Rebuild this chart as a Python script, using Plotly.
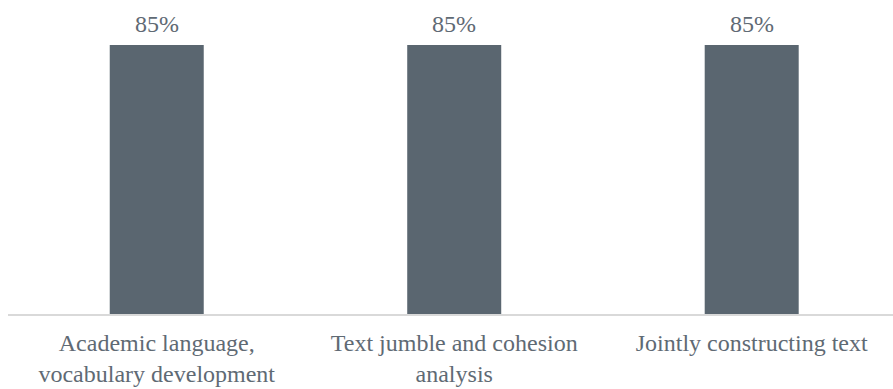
import plotly.graph_objects as go

categories = ["Academic language,<br>vocabulary development",
              "Text jumble and cohesion<br>analysis",
              "Jointly constructing text"]
values = [85, 85, 85]
value_labels = ["85%", "85%", "85%"]

bar_color = "#5a6670"
text_color = "#5f6a74"
font_family = "Liberation Serif"

fig = go.Figure()
fig.add_trace(go.Bar(
    x=list(range(len(categories))),
    y=values,
    width=0.316,
    marker=dict(color=bar_color, line=dict(width=0)),
    hoverinfo="skip",
))

for i, (v, lab) in enumerate(zip(values, value_labels)):
    fig.add_annotation(
        x=i, y=v, text=lab, showarrow=False,
        yanchor="bottom", yshift=6,
        font=dict(family=font_family, size=24, color=text_color),
    )

fig.update_layout(
    width=893, height=389,
    margin=dict(l=8, r=0, t=0, b=75),
    paper_bgcolor="white", plot_bgcolor="white",
    showlegend=False,
    font=dict(family=font_family, size=24, color=text_color),
    xaxis=dict(
        range=[-0.5, 2.475],
        tickmode="array",
        tickvals=list(range(len(categories))),
        ticktext=categories,
        showline=True, linecolor="#d9d9d9", linewidth=1.5,
        showgrid=False, zeroline=False, ticks="",
        ticklabelstandoff=6,
        tickfont=dict(family=font_family, size=24, color=text_color),
    ),
    yaxis=dict(
        range=[0, 99.2],
        visible=False, showgrid=False, zeroline=False,
    ),
)

fig.write_html("out.html")
